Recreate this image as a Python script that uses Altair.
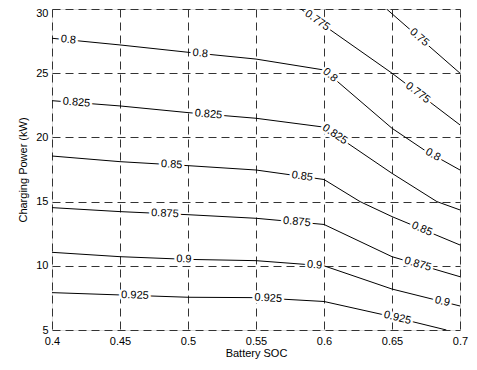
import math
import numpy as np
import pandas as pd
import altair as alt

# ---- contour polylines (Battery SOC, Charging Power kW) ----
c075_x = [0.646, 0.700]
c075_y = [30.00, 25.00]
c0775_x = [0.583, 0.600, 0.650, 0.700]
c0775_y = [30.00, 28.72, 25.00, 20.97]
c080_x = [0.40, 0.45, 0.50, 0.55, 0.60, 0.65, 0.674, 0.70]
c080_y = [27.72, 27.20, 26.63, 26.10, 25.25, 20.71, 19.00, 17.46]
c0825_x = [0.40, 0.45, 0.50, 0.55, 0.60, 0.65, 0.683, 0.70]
c0825_y = [22.86, 22.45, 21.93, 21.49, 20.80, 17.20, 15.00, 14.35]
c085_x = [0.40, 0.45, 0.50, 0.55, 0.60, 0.6265, 0.65, 0.70]
c085_y = [18.55, 18.11, 17.80, 17.46, 16.72, 15.00, 13.83, 11.62]
c0875_x = [0.40, 0.45, 0.50, 0.55, 0.60, 0.65, 0.70]
c0875_y = [14.53, 14.22, 13.98, 13.70, 13.22, 10.71, 9.15]
c090_x = [0.40, 0.45, 0.50, 0.55, 0.60, 0.65, 0.70]
c090_y = [11.05, 10.71, 10.50, 10.40, 10.00, 8.19, 6.87]
c0925_x = [0.40, 0.45, 0.50, 0.55, 0.60, 0.65, 0.69]
c0925_y = [7.91, 7.73, 7.55, 7.52, 7.22, 6.04, 5.00]

# ---- contour labels: level and SOC position along the line ----
lab_level = ["0.8", "0.8", "0.8", "0.8",
             "0.825", "0.825", "0.825",
             "0.85", "0.85", "0.85",
             "0.875", "0.875", "0.875",
             "0.9", "0.9", "0.9",
             "0.925", "0.925", "0.925",
             "0.775", "0.775", "0.75"]
lab_x = [0.412, 0.509, 0.6044, 0.680,
         0.418, 0.515, 0.608,
         0.488, 0.584, 0.672,
         0.483, 0.580, 0.669,
         0.497, 0.593, 0.687,
         0.461, 0.559, 0.654,
         0.595, 0.669, 0.670]

x_ticks = [0.4, 0.45, 0.5, 0.55, 0.6, 0.65, 0.7]
y_ticks = [5, 10, 15, 20, 25, 30]

W, H = 408, 321
XD = [0.4, 0.7]
YD = [5, 30]
kx = W / (XD[1] - XD[0])
ky = H / (YD[1] - YD[0])

contours = {
    "0.75": (c075_x, c075_y),
    "0.775": (c0775_x, c0775_y),
    "0.8": (c080_x, c080_y),
    "0.825": (c0825_x, c0825_y),
    "0.85": (c085_x, c085_y),
    "0.875": (c0875_x, c0875_y),
    "0.9": (c090_x, c090_y),
    "0.925": (c0925_x, c0925_y),
}

rows = []
for lev, (xx, yy) in contours.items():
    for i, (a, b) in enumerate(zip(xx, yy)):
        rows.append({"level": lev, "i": i, "soc": a, "p": b})
lines_df = pd.DataFrame(rows)

lrows = []
for lev, lx in zip(lab_level, lab_x):
    xx, yy = contours[lev]
    ly = float(np.interp(lx, xx, yy))
    j = 0
    for k in range(len(xx) - 1):
        if xx[k] <= lx:
            j = k
    ang = math.degrees(math.atan2((yy[j] - yy[j + 1]) * ky, (xx[j + 1] - xx[j]) * kx)) % 360
    lrows.append({"level": lev, "soc": lx, "p": ly, "ang": ang})
labels_df = pd.DataFrame(lrows)

FONT = "Liberation Sans"

xscale = alt.Scale(domain=XD, nice=False, zero=False)
yscale = alt.Scale(domain=YD, nice=False, zero=False)

xaxis = alt.Axis(values=x_ticks, format="~g", title="Battery SOC",
                 grid=True, gridDash=[8, 5], gridColor="#333", gridWidth=1,
                 ticks=False, domain=False, labelFlush=False, labelPadding=5,
                 labelFont=FONT, labelFontSize=11, labelColor="black",
                 titleFont=FONT, titleFontSize=11, titleFontWeight="normal",
                 titleColor="black", titleY=17, titleBaseline="top")
yaxis = alt.Axis(values=y_ticks, format="d", title="Charging Power (kW)",
                 grid=True, gridDash=[8, 5], gridColor="#333", gridWidth=1,
                 ticks=False, domain=False, labelFlush=False, labelPadding=4,
                 labelOffset={"condition": {"test": "datum.value === 30", "value": 4}, "value": 0},
                 labelFont=FONT, labelFontSize=11, labelColor="black",
                 titleFont=FONT, titleFontSize=11, titleFontWeight="normal",
                 titleColor="black", titleX=-24, titleBaseline="bottom")

lines = alt.Chart(lines_df).mark_line(color="black", strokeWidth=1, clip=True).encode(
    x=alt.X("soc:Q", scale=xscale, axis=xaxis),
    y=alt.Y("p:Q", scale=yscale, axis=yaxis),
    detail="level:N",
    order="i:Q",
)

halo = alt.Chart(labels_df).mark_text(
    font=FONT, fontSize=11, color="white", stroke="white", strokeWidth=5,
    align="center", baseline="middle"
).encode(
    x=alt.X("soc:Q", scale=xscale),
    y=alt.Y("p:Q", scale=yscale),
    text="level:N",
    angle=alt.Angle("ang:Q", scale=None),
)

text = alt.Chart(labels_df).mark_text(
    font=FONT, fontSize=11, color="black", align="center", baseline="middle"
).encode(
    x=alt.X("soc:Q", scale=xscale),
    y=alt.Y("p:Q", scale=yscale),
    text="level:N",
    angle=alt.Angle("ang:Q", scale=None),
)

chart = alt.layer(lines, halo, text).properties(
    width=W, height=H,
    autosize="none",
    padding={"left": 44, "top": 1, "right": 9, "bottom": 31},
).configure_view(stroke="black", strokeWidth=1.2).configure(background="white")

chart.save("out.html", embed_options={"renderer": "svg", "actions": False})
